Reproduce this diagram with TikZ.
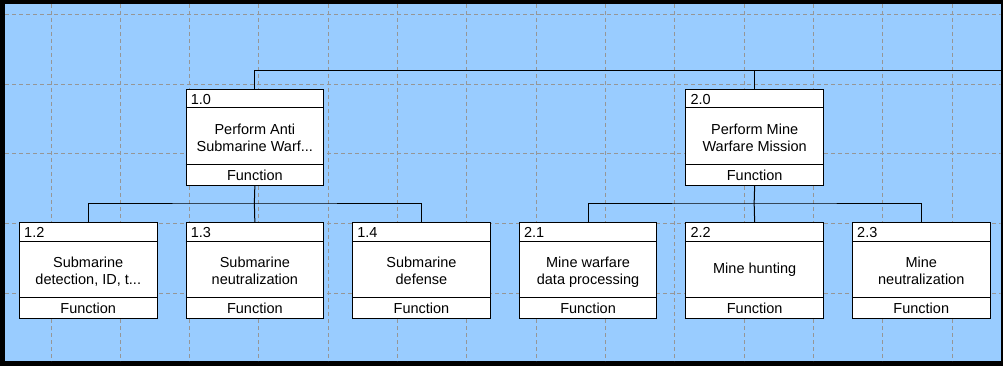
\documentclass[tikz,border=0pt]{standalone}
\usepackage{fontspec}
\setmainfont{Liberation Sans}
\definecolor{canvasblue}{RGB}{153,204,255}
\definecolor{gridgray}{RGB}{150,150,150}

% one function block: #1 name, #2 top-left corner, #3 number
\newcommand\fnbox[3]{%
  \node[fbox] (#1) at (#2) {};
  \draw[link] ([yshift=-19pt]#1.north west) -- ([yshift=-19pt]#1.north east);
  \draw[link] ([yshift=21.5pt]#1.south west) -- ([yshift=21.5pt]#1.south east);
  \node[idlbl] (#1-id) at ([xshift=5pt,yshift=-15.3pt]#1.north west) {#3};
  \node[lbl] (#1-type) at ([yshift=5.3pt]#1.south) {Function};
}
% caption in two lines
\newcommand\captwo[3]{%
  \node[lbl] (#1-a) at ([yshift=3pt]#1.center) {#2};
  \node[lbl] (#1-b) at ([yshift=-13.7pt]#1.center) {#3};
}
% caption in one line
\newcommand\capone[2]{%
  \node[lbl] (#1-a) at ([yshift=-3.3pt]#1.center) {#2};
}

\begin{document}
\begin{tikzpicture}[x=1pt,y=-1pt,
  fbox/.style={draw=black, line width=1pt, fill=white, minimum width=137.5pt,
    minimum height=96pt, inner sep=0pt, anchor=north west},
  link/.style={draw=black, line width=1pt},
  gridline/.style={draw=gridgray, line width=1pt, dash pattern=on 4pt off 3pt},
  lbl/.style={font=\fontsize{14.5}{17}\selectfont, inner sep=0pt, anchor=base},
  idlbl/.style={lbl, anchor=base west},
]
\useasboundingbox (0,0) rectangle (1003,366);

% window frame and canvas
\fill[black] (0,0) rectangle (1003,366);
\fill[canvasblue] (5,4) rectangle (1000.5,361);

% dashed layout grid
\begin{scope}
  \clip (5,4) rectangle (1000.5,361);
  \foreach \i in {0,...,13}
    \draw[gridline] (51+69.33*\i,4) -- (51+69.33*\i,361);
  \foreach \j in {0,...,4}
    \draw[gridline] (5,15+69.5*\j) -- (1000.5,15+69.5*\j);
\end{scope}

% function blocks
\fnbox{b10}{185.6,89}{1.0}
\captwo{b10}{Perform Anti}{Submarine Warf...}
\fnbox{b20}{685.4,89}{2.0}
\captwo{b20}{Perform Mine}{Warfare Mission}

\fnbox{b12}{19,222}{1.2}
\captwo{b12}{Submarine}{detection, ID, t...}
\fnbox{b13}{185.6,222}{1.3}
\captwo{b13}{Submarine}{neutralization}
\fnbox{b14}{352.2,222}{1.4}
\captwo{b14}{Submarine}{defense}
\fnbox{b21}{518.8,222}{2.1}
\captwo{b21}{Mine warfare}{data processing}
\fnbox{b22}{685.4,222}{2.2}
\capone{b22}{Mine hunting}
\fnbox{b23}{852,222}{2.3}
\captwo{b23}{Mine}{neutralization}

% tree connectors
\coordinate (rootbus) at (1000.5,71);
\coordinate (busA) at (254.35,203);
\coordinate (busB) at (754.15,203);

\draw[link] (b10.north) |- (rootbus);
\draw[link] (b20.north) -- (b20.north |- rootbus);

\draw[link] (b10.south) -- (busA);
\draw[link] (b12.north) |- (busA) -| (b14.north);
\draw[link] (b13.north) -- (busA);

\draw[link] (b20.south) -- (busB);
\draw[link] (b21.north) |- (busB) -| (b23.north);
\draw[link] (b22.north) -- (busB);
\end{tikzpicture}
\end{document}
